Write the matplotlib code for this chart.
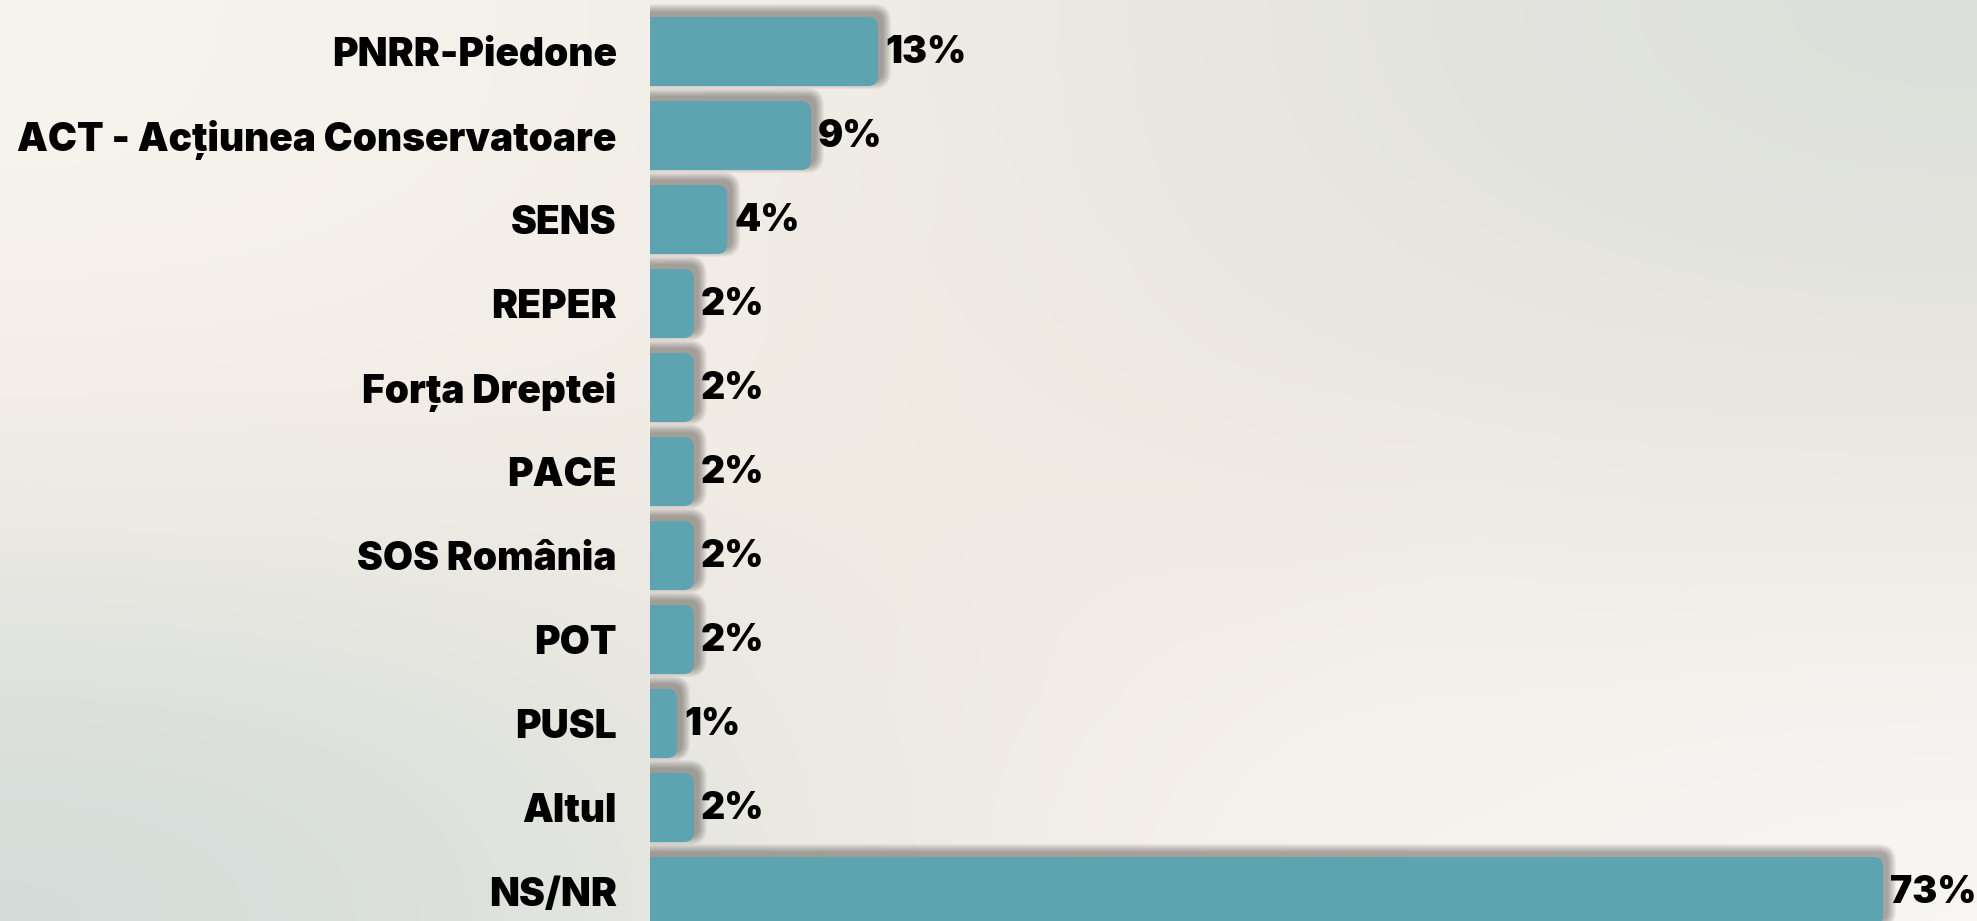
import matplotlib
matplotlib.use("Agg")
import matplotlib.pyplot as plt
import numpy as np
from matplotlib.patches import FancyBboxPatch
from matplotlib.colors import to_rgb

# date
parties = ['PNRR-Piedone', 'ACT - Acțiunea Conservatoare', 'SENS', 'REPER',
           'Forța Dreptei', 'PACE', 'SOS România', 'POT', 'PUSL', 'Altul', 'NS/NR']
procente = [13, 9, 4, 2, 2, 2, 2, 2, 1, 2, 73]

W, H = 1977, 921
BAR = '#5da3b0'

plt.rcParams['font.family'] = ['Inter', 'DejaVu Sans']

fig = plt.figure(figsize=(W / 100, H / 100), dpi=100)

# fundal in degrade
bg = fig.add_axes([0, 0, 1, 1], zorder=0)
grid = np.array([[to_rgb('#f7f4ee'), to_rgb('#eeeae3'), to_rgb('#dde0db')],
                 [to_rgb('#f4eee6'), to_rgb('#f1ebe3'), to_rgb('#ece8e1')],
                 [to_rgb('#d3dcd9'), to_rgb('#f5eee6'), to_rgb('#f8f7f4')]])
bg.imshow(grid, aspect='auto', interpolation='bicubic', extent=[0, 1, 0, 1])
bg.axis('off')

# axa principala: 0% la ~660px, 16.75 px / procent, 84 px intre bare
ax = fig.add_axes([650 / W, 0, 1 - 650 / W, 1], zorder=1)
ax.patch.set_alpha(0)
x0 = -10.3 / 16.75
ax.set_xlim(x0, x0 + (W - 650) / 16.75)
ax.set_ylim((H - 51.5) / 84, -51.5 / 84)
px, py = 1 / 16.75, 1 / 84
h = 69 * py
r = 10 * px
aspect = py / px

for i, v in enumerate(procente):
    left = x0 - 2
    # umbra (sus si dreapta)
    for k in range(0, 9):
        sh = FancyBboxPatch((left + 5 * px - k * px, i - h / 2 - 5 * py - k * py),
                            v - left + 2 * k * px, h + 2 * k * py,
                            boxstyle=f"round,pad=0,rounding_size={r + k * px}",
                            mutation_aspect=aspect, facecolor='#3a3330',
                            edgecolor='none', alpha=0.055, zorder=2)
        ax.add_patch(sh)
    bar = FancyBboxPatch((left, i - h / 2), v - left, h,
                         boxstyle=f"round,pad=0,rounding_size={r}",
                         mutation_aspect=aspect, facecolor=BAR,
                         edgecolor='none', zorder=3)
    ax.add_patch(bar)
    ax.annotate(f"{v}%", xy=(v, i), xytext=(5, -1), textcoords='offset points',
                va='center', ha='left', fontsize=27, fontweight=900,
                color='black', zorder=4, annotation_clip=False)

ax.set_yticks(range(len(parties)))
ax.set_yticklabels(parties, fontsize=28, fontweight=900)
ax.tick_params(axis='y', length=0, pad=24)
ax.set_xticks([])
for s in ax.spines.values():
    s.set_visible(False)

fig.savefig("out.png", dpi=100)
